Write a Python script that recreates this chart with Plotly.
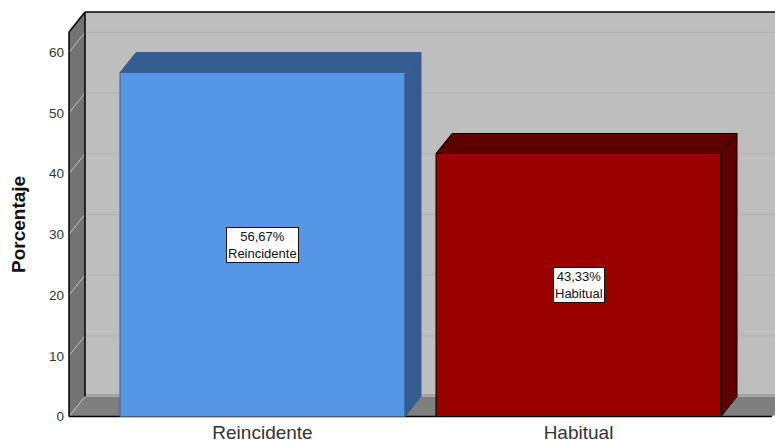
import plotly.graph_objects as go

categories = ["Reincidente", "Habitual"]
values = [56.67, 43.33]
value_labels = ["56,67%", "43,33%"]
y_ticks = [0, 10, 20, 30, 40, 50, 60]
y_title = "Porcentaje"

FRONT = ["#5596E6", "#990000"]
DARK = ["#335C91", "#5C0000"]
EDGE = ["#3F5F88", "#000000"]

W, H = 775, 443
ML, MB = 65, 24
PX_X, PX_Y = 316.0, 6.07          # px per category step / per y unit
X0_PX, Y0_PX = 262.5, 416.5       # pixel of category 0 / of y=0
BAR_W = 285 / PX_X
DX, DY = 16 / PX_X, 20 / PX_Y     # 3D depth

x_lo = (ML - X0_PX) / PX_X
x_hi = (W - X0_PX) / PX_X
y_lo = (Y0_PX - (H - MB)) / PX_Y
y_hi = Y0_PX / PX_Y
wall_l = (69 - X0_PX) / PX_X
floor_r = (772 - X0_PX) / PX_X
top = 60 + (Y0_PX - 32 - 60 * PX_Y) / PX_Y   # top of front wall edge


def poly(pts, fill, line=None, width=1, layer="below"):
    path = "M " + " L ".join(f"{a},{b}" for a, b in pts) + " Z"
    return dict(type="path", path=path, fillcolor=fill, layer=layer,
                line=dict(color=line or fill, width=width if line else 0))


def seg(a, b, color, width=1):
    return dict(type="line", x0=a[0], y0=a[1], x1=b[0], y1=b[1], layer="below",
                line=dict(color=color, width=width))


shapes = [
    poly([(wall_l + DX, DY), (x_hi + 0.1, DY), (x_hi + 0.1, top + DY), (wall_l + DX, top + DY)], "#BEBEBE"),
    poly([(wall_l, 0), (wall_l + DX, DY), (x_hi + 0.1, DY), (floor_r, 0)], "#7F7F7F"),
    poly([(wall_l, 0), (wall_l + DX, DY), (wall_l + DX, top + DY), (wall_l, top)], "#737373"),
    seg((wall_l + DX, DY + 0.25), (x_hi + 0.1, DY + 0.25), "#A2A2A2", 2),
]
for t in y_ticks[1:]:
    shapes.append(seg((wall_l + DX, t + DY), (x_hi + 0.1, t + DY), "#B0B0B0", 1))
for t in y_ticks:
    shapes.append(seg((wall_l, t), (wall_l + DX, t + DY), "#C4C4C4", 1))
shapes += [
    seg((wall_l, 0), (wall_l, top), "#000000", 1.5),
    seg((wall_l + DX, DY), (wall_l + DX, top + DY), "#000000", 1.5),
    seg((wall_l, top), (wall_l + DX, top + DY), "#000000", 1.5),
    seg((wall_l + DX, top + DY), (x_hi + 0.1, top + DY), "#000000", 1.5),
    seg((wall_l, 0), (floor_r, 0), "#000000", 1.5),
]

fig = go.Figure()
xs = list(range(len(categories)))
fig.add_trace(go.Bar(
    x=xs, y=values, width=BAR_W, marker=dict(color=FRONT, line=dict(color=EDGE, width=1)),
    hoverinfo="skip", showlegend=False,
))
for i, v in zip(xs, values):
    l, r = i - BAR_W / 2, i + BAR_W / 2
    fig.add_trace(go.Scatter(
        x=[l, l + DX, r + DX, r, l], y=[v, v + DY, v + DY, v, v], mode="lines", fill="toself",
        fillcolor=DARK[i], line=dict(color=EDGE[i], width=1), hoverinfo="skip", showlegend=False))
    fig.add_trace(go.Scatter(
        x=[r, r + DX, r + DX, r, r], y=[v, v + DY, DY, 0, v], mode="lines", fill="toself",
        fillcolor=DARK[i], line=dict(color=EDGE[i], width=1), hoverinfo="skip", showlegend=False))
    fig.add_annotation(
        x=i, y=v / 2, text=f"{value_labels[i]}<br>{categories[i]}", showarrow=False,
        bgcolor="white", bordercolor="#111111", borderwidth=1, borderpad=1,
        font=dict(family="Liberation Sans", size=13, color="#111111"))

fig.add_annotation(
    xref="paper", yref="paper", x=-65 / (W - ML) + 19 / (W - ML), y=(H - MB - 225) / (H - MB),
    text=f"<b>{y_title}</b>", textangle=-90, showarrow=False, xanchor="center", yanchor="middle",
    font=dict(family="Liberation Sans", size=19, color="#111111"))

fig.update_layout(
    width=W, height=H, margin=dict(l=ML, r=0, t=0, b=MB, pad=0),
    paper_bgcolor="white", plot_bgcolor="white", shapes=shapes, showlegend=False,
    font=dict(family="Liberation Sans"),
    xaxis=dict(range=[x_lo, x_hi], tickmode="array", tickvals=xs, ticktext=categories,
               showgrid=False, zeroline=False, showline=False, ticks="",
               tickfont=dict(size=19, color="#333333")),
    yaxis=dict(range=[y_lo, y_hi], tickmode="array", tickvals=y_ticks,
               showgrid=False, zeroline=False, showline=False, ticks="",
               tickfont=dict(size=13.5, color="#333333")),
)
fig.write_html("out.html", config={"displayModeBar": False},
               post_script="document.body.style.margin='0';document.body.style.overflow='hidden';")
